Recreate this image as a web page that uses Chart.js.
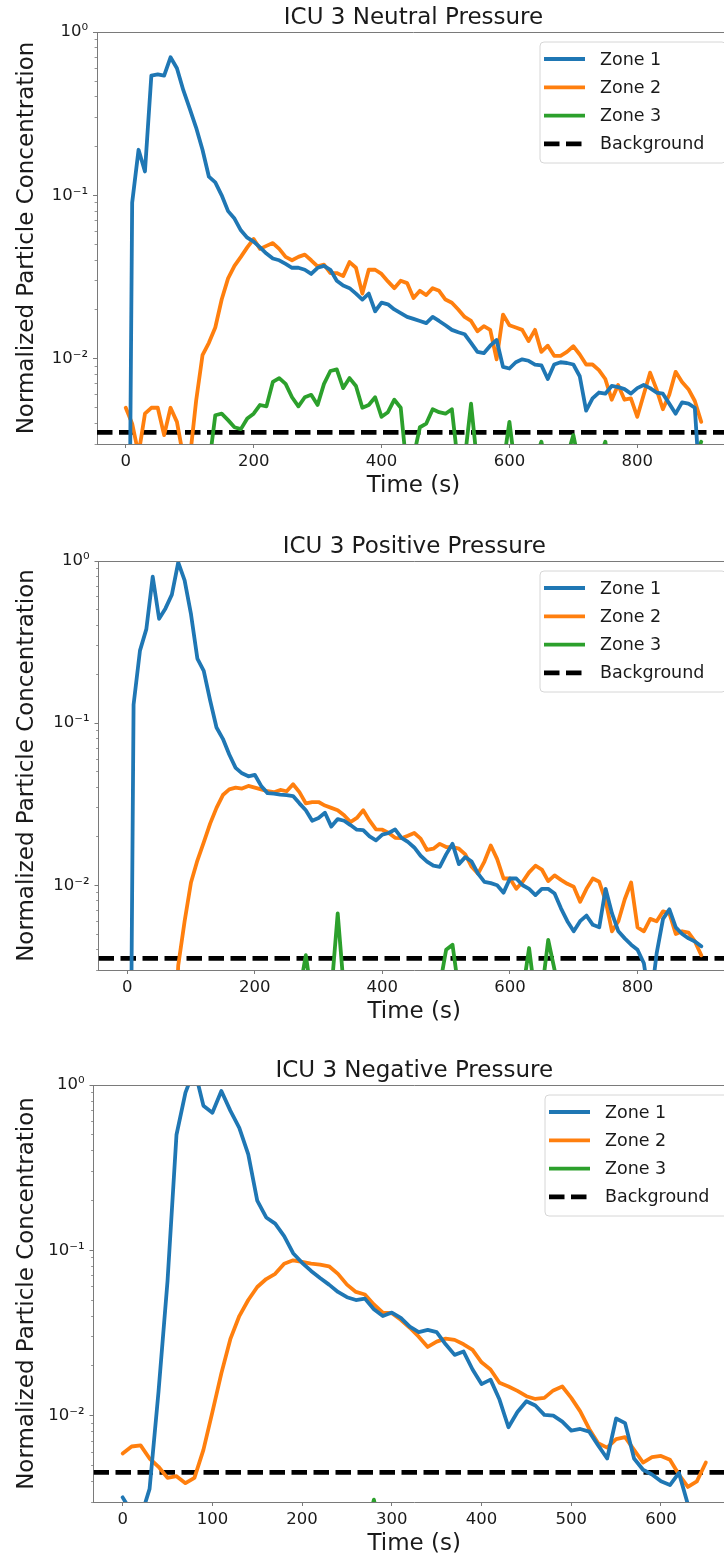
<!DOCTYPE html>
<html>
<head>
<meta charset="utf-8">
<script src="https://cdn.jsdelivr.net/npm/chart.js@4.4.1/dist/chart.umd.min.js"></script>
<style>
  html, body { margin: 0; padding: 0; background: #ffffff; width: 724px; height: 1558px; overflow: hidden; }
  .panel { position: absolute; left: 0; }
</style>
</head>
<body>
<canvas id="neutral" class="panel"></canvas>
<canvas id="positive" class="panel"></canvas>
<canvas id="negative" class="panel"></canvas>
<script>
// ---- series names, titles and tick labels ----
const seriesNames = ['Zone 1', 'Zone 2', 'Zone 3', 'Background'];
const panelTitles = ['ICU 3 Neutral Pressure', 'ICU 3 Positive Pressure', 'ICU 3 Negative Pressure'];
const xAxisTitle = 'Time (s)';
const yAxisTitle = 'Normalized Particle Concentration';
const longTimeTicks = [0, 200, 400, 600, 800];
const shortTimeTicks = [0, 100, 200, 300, 400, 500, 600];
const decadeTicks = [1, 0.1, 0.01];
const decadeLabels = ['10\u2070', '10\u207B\u00B9', '10\u207B\u00B2'];
const minorTicks = [0.9, 0.8, 0.7, 0.6, 0.5, 0.4, 0.3, 0.2,
                    0.09, 0.08, 0.07, 0.06, 0.05, 0.04, 0.03, 0.02,
                    0.009, 0.008, 0.007, 0.006, 0.005, 0.004, 0.003];

// ---- neutral pressure (0-900 s) ----
const neutralTime = [0,10,20,30,40,50,60,70,80,90,100,110,120,130,140,150,160,170,180,190,
  200,210,220,230,240,250,260,270,280,290,300,310,320,330,340,350,360,370,380,390,
  400,410,420,430,440,450,460,470,480,490,500,510,520,530,540,550,560,570,580,590,
  600,610,620,630,640,650,660,670,680,690,700,710,720,730,740,750,760,770,780,790,
  800,810,820,830,840,850,860,870,880,890,900];
const neutralZone1 = [0.000001,0.09,0.19,0.14,0.54,0.55,0.54,0.70,0.60,0.44,
  0.34,0.26,0.19,0.13,0.12,0.10,0.08,0.072,0.061,0.055,
  0.052,0.048,0.044,0.041,0.040,0.038,0.036,0.036,0.035,0.033,
  0.036,0.037,0.035,0.030,0.028,0.027,0.025,0.023,0.025,0.0195,
  0.022,0.0215,0.020,0.019,0.018,0.0175,0.017,0.0165,0.018,0.017,
  0.016,0.015,0.0145,0.0141,0.0125,0.011,0.0108,0.012,0.013,0.0089,
  0.0087,0.0095,0.0099,0.0097,0.0092,0.0091,0.0075,0.0092,0.0095,0.0094,
  0.0092,0.0078,0.0048,0.0057,0.0062,0.0061,0.0068,0.0067,0.0065,0.0061,
  0.0066,0.0069,0.0066,0.0062,0.0061,0.0053,0.0046,0.0054,0.0053,0.0050,0.0012];
const neutralZone2 = [0.0050,0.0040,0.0026,0.0046,0.0050,0.0050,0.0034,0.0050,0.0041,0.0025,
  0.0024,0.0055,0.0105,0.0125,0.0155,0.023,0.031,0.037,0.042,0.048,
  0.054,0.047,0.049,0.051,0.047,0.042,0.040,0.042,0.0433,0.040,
  0.0367,0.0376,0.0334,0.0334,0.032,0.039,0.036,0.025,0.035,0.035,
  0.033,0.0297,0.027,0.030,0.029,0.0235,0.026,0.0245,0.027,0.026,
  0.023,0.022,0.020,0.018,0.017,0.0147,0.0158,0.015,0.0099,0.0186,
  0.016,0.0155,0.015,0.0128,0.015,0.011,0.012,0.0104,0.0104,0.011,
  0.0119,0.0106,0.0092,0.0092,0.0085,0.0075,0.0056,0.0069,0.0056,0.0057,
  0.0044,0.0060,0.0082,0.0065,0.0049,0.0060,0.0083,0.0072,0.0065,0.0055,0.0041];
const neutralZone3 = [0.001,0.001,0.001,0.001,0.001,0.001,0.001,0.001,0.001,0.001,
  0.001,0.001,0.001,0.0022,0.0045,0.0046,0.0042,0.0038,0.0037,0.0043,
  0.0046,0.0052,0.0051,0.0072,0.0076,0.0070,0.0058,0.0051,0.0058,0.0060,
  0.0052,0.0070,0.0084,0.0086,0.0066,0.0076,0.0068,0.0050,0.0052,0.0058,
  0.0044,0.0047,0.0056,0.0050,0.0020,0.0025,0.0038,0.0040,0.0049,0.0047,
  0.0046,0.0049,0.0022,0.0024,0.0053,0.0022,0.0012,0.0012,0.0015,0.0022,
  0.0041,0.0020,0.0012,0.0015,0.0024,0.0031,0.0020,0.0012,0.0015,0.0025,
  0.0034,0.0022,0.0012,0.0015,0.0024,0.0031,0.0018,0.0012,0.0012,0.0012,
  0.0012,0.0012,0.0012,0.0012,0.0012,0.0012,0.0012,0.0012,0.0015,0.0024,0.0031];
const neutralBackground = 0.00353;

// ---- positive pressure (0-900 s) ----
const positiveTime = neutralTime;
const positiveZone1 = [0.000001,0.13,0.28,0.38,0.80,0.44,0.51,0.62,0.98,0.76,
  0.47,0.25,0.21,0.138,0.094,0.080,0.064,0.053,0.049,0.047,
  0.048,0.041,0.037,0.0367,0.0362,0.036,0.0355,0.032,0.029,0.025,
  0.026,0.028,0.023,0.0256,0.025,0.0235,0.022,0.0219,0.020,0.0189,
  0.0205,0.021,0.0221,0.0196,0.0185,0.0171,0.0152,0.014,0.0132,0.013,
  0.0155,0.018,0.0135,0.0149,0.014,0.0118,0.0105,0.0103,0.0100,0.0090,
  0.0110,0.0110,0.0100,0.0095,0.0087,0.0095,0.0095,0.0089,0.0072,0.0060,
  0.0052,0.0060,0.0065,0.0057,0.0055,0.0095,0.0067,0.0052,0.0047,0.0043,
  0.0040,0.0033,0.0018,0.0038,0.0062,0.0071,0.0055,0.0050,0.0047,0.0045,0.0042];
const positiveZone2 = [0.0005,0.0005,0.0005,0.0005,0.0005,0.0005,0.0005,0.0005,0.0032,0.0060,
  0.0104,0.0142,0.0184,0.024,0.030,0.036,0.039,0.040,0.0395,0.041,
  0.040,0.039,0.038,0.0375,0.0387,0.038,0.042,0.0375,0.032,0.0326,
  0.0326,0.031,0.030,0.029,0.027,0.0245,0.026,0.029,0.025,0.0221,
  0.022,0.021,0.0196,0.0195,0.0202,0.021,0.0194,0.0165,0.0168,0.018,
  0.0172,0.0172,0.0168,0.0155,0.013,0.0118,0.014,0.0176,0.0145,0.011,
  0.011,0.0095,0.0105,0.012,0.0132,0.0125,0.0106,0.0115,0.0108,0.0102,
  0.0098,0.0079,0.0095,0.011,0.0105,0.0080,0.0052,0.0060,0.0082,0.0104,
  0.0055,0.0052,0.0062,0.0060,0.0069,0.0067,0.0050,0.0052,0.0051,0.0045,0.0037];
const positiveZone3 = [0.0008,0.0008,0.0008,0.0008,0.0008,0.0008,0.0008,0.0008,0.0008,0.0008,
  0.0008,0.0008,0.0008,0.0008,0.0008,0.0008,0.0008,0.0008,0.0008,0.0008,
  0.0008,0.0008,0.0008,0.0008,0.0008,0.0008,0.0008,0.0022,0.0037,0.0020,
  0.0008,0.0008,0.0022,0.0067,0.0022,0.0008,0.0008,0.0008,0.0008,0.0008,
  0.0008,0.0008,0.0008,0.0008,0.0008,0.0008,0.0008,0.0008,0.0008,0.0024,
  0.0040,0.0043,0.0022,0.0008,0.0008,0.0008,0.0008,0.0008,0.0008,0.0008,
  0.0008,0.0008,0.0022,0.0041,0.0020,0.0022,0.0046,0.0030,0.0018,0.0008,
  0.0008,0.0008,0.0008,0.0008,0.0008,0.0008,0.0008,0.0008,0.0008,0.0008,
  0.0008,0.0008,0.0008,0.0008,0.0008,0.0008,0.0008,0.0008,0.0008,0.0008,0.0008];
const positiveBackground = 0.00354;

// ---- negative pressure (0-650 s) ----
const negativeTime = [0,10,20,30,40,50,60,70,80,90,100,110,120,130,140,150,160,170,180,190,
  200,210,220,230,240,250,260,270,280,290,300,310,320,330,340,350,360,370,380,390,
  400,410,420,430,440,450,460,470,480,490,500,510,520,530,540,550,560,570,580,590,
  600,610,620,630,640,650];
const negativeZone1 = [0.0032,0.0026,0.0024,0.0036,0.014,0.065,0.50,0.90,1.25,0.75,
  0.68,0.92,0.70,0.55,0.38,0.20,0.158,0.145,0.122,0.096,
  0.084,0.075,0.068,0.062,0.056,0.052,0.050,0.051,0.044,0.040,
  0.042,0.039,0.0345,0.032,0.033,0.032,0.027,0.0233,0.0244,0.019,
  0.0155,0.0165,0.0125,0.0085,0.0105,0.0122,0.0115,0.0101,0.0100,0.0092,
  0.0081,0.0083,0.0080,0.0066,0.0055,0.0096,0.0090,0.0055,0.0047,0.0044,
  0.0040,0.0038,0.0045,0.0029,0.0020,0.0016];
const negativeZone2 = [0.0059,0.0065,0.0066,0.0055,0.0049,0.0042,0.0043,0.0039,0.0042,0.0062,
  0.0105,0.018,0.029,0.040,0.050,0.060,0.067,0.072,0.083,0.087,
  0.085,0.083,0.082,0.080,0.072,0.062,0.056,0.054,0.047,0.042,
  0.0416,0.038,0.034,0.030,0.026,0.028,0.0292,0.0287,0.027,0.025,
  0.021,0.019,0.0158,0.0150,0.0141,0.0131,0.0126,0.0128,0.0142,0.0150,
  0.0128,0.0106,0.0083,0.0068,0.0064,0.0072,0.0074,0.0062,0.0052,0.0056,
  0.0057,0.0054,0.0044,0.0037,0.0040,0.0052];
const negativeZone3 = [0.0008,0.0008,0.0008,0.0008,0.0008,0.0008,0.0008,0.0008,0.0008,0.0008,
  0.0008,0.0008,0.0008,0.0008,0.0008,0.0008,0.0008,0.0008,0.0008,0.0008,
  0.0008,0.0008,0.0008,0.0008,0.0008,0.0008,0.0008,0.0018,0.0031,0.0018,
  0.0008,0.0008,0.0008,0.0008,0.0008,0.0008,0.0008,0.0008,0.0008,0.0008,
  0.0008,0.0008,0.0008,0.0008,0.0008,0.0008,0.0008,0.0008,0.0008,0.0008,
  0.0008,0.0008,0.0008,0.0008,0.0008,0.0008,0.0008,0.0008,0.0008,0.0008,
  0.0008,0.0008,0.0008,0.0008,0.0008,0.0008];
const negativeBackground = 0.00453;

// ---- styling ----
const FONT = "'DejaVu Sans', sans-serif";
const zoneColors = ['#1f77b4', '#ff7f0e', '#2ca02c'];
const AXIS_COLOR = '#7a7a7a';
const TEXT_COLOR = '#1a1a1a';

// spines on the top and right of the plotting area
const framePlugin = {
  id: 'frame',
  afterDatasetsDraw(chart) {
    const { ctx, chartArea: a } = chart;
    ctx.save();
    ctx.strokeStyle = AXIS_COLOR;
    ctx.lineWidth = 1;
    ctx.beginPath();
    ctx.moveTo(a.left, Math.round(a.top) + 0.5);
    ctx.lineTo(a.right, Math.round(a.top) + 0.5);
    ctx.moveTo(Math.round(a.right) + 0.5, a.top);
    ctx.lineTo(Math.round(a.right) + 0.5, a.bottom);
    ctx.stroke();
    ctx.restore();
  }
};

// legend box drawn inside the upper-right corner of the plotting area
const boxLegendPlugin = {
  id: 'boxLegend',
  afterDraw(chart, args, opts) {
    const { ctx, chartArea: a } = chart;
    const left = a.right - opts.rightGap - opts.width;
    const top = a.top + opts.topGap;
    const r = 4;
    ctx.save();
    ctx.beginPath();
    ctx.moveTo(left + r, top);
    ctx.lineTo(left + opts.width - r, top);
    ctx.arcTo(left + opts.width, top, left + opts.width, top + r, r);
    ctx.lineTo(left + opts.width, top + opts.height - r);
    ctx.arcTo(left + opts.width, top + opts.height, left + opts.width - r, top + opts.height, r);
    ctx.lineTo(left + r, top + opts.height);
    ctx.arcTo(left, top + opts.height, left, top + opts.height - r, r);
    ctx.lineTo(left, top + r);
    ctx.arcTo(left, top, left + r, top, r);
    ctx.closePath();
    ctx.fillStyle = 'rgba(255,255,255,0.8)';
    ctx.fill();
    ctx.strokeStyle = '#d6d6d6';
    ctx.lineWidth = 1;
    ctx.stroke();
    chart.data.datasets.forEach((ds, i) => {
      const y = top + opts.firstRow + i * opts.rowGap;
      ctx.beginPath();
      ctx.setLineDash(ds.borderDash || []);
      ctx.lineWidth = ds.borderWidth;
      ctx.strokeStyle = ds.borderColor;
      ctx.moveTo(left + opts.handleStart, y);
      ctx.lineTo(left + opts.handleStart + opts.handleLength, y);
      ctx.stroke();
      ctx.setLineDash([]);
      ctx.fillStyle = TEXT_COLOR;
      ctx.font = opts.fontSize + 'px ' + FONT;
      ctx.textBaseline = 'middle';
      ctx.textAlign = 'left';
      ctx.fillText(ds.label, left + opts.textStart, y + 1);
    });
    ctx.restore();
  }
};

function zoneSeries(time, values) {
  return time.map((t, i) => ({ x: t, y: values[i] }));
}

function buildPanel(id, cfg) {
  const canvas = document.getElementById(id);
  canvas.width = cfg.canvasWidth;
  canvas.height = cfg.canvasHeight;
  canvas.style.width = cfg.canvasWidth + 'px';
  canvas.style.height = cfg.canvasHeight + 'px';
  canvas.style.top = cfg.canvasTop + 'px';

  const zoneLine = (k, values) => ({
    label: seriesNames[k],
    data: zoneSeries(cfg.time, values),
    borderColor: zoneColors[k],
    backgroundColor: zoneColors[k],
    borderWidth: 3.8,
    borderJoinStyle: 'round',
    borderCapStyle: 'round',
    pointRadius: 0,
    tension: 0,
    fill: false,
    clip: 0
  });

  const datasets = [
    zoneLine(0, cfg.zone1),
    zoneLine(1, cfg.zone2),
    zoneLine(2, cfg.zone3),
    {
      label: seriesNames[3],
      data: [{ x: cfg.xMin, y: cfg.background }, { x: cfg.xMax, y: cfg.background }],
      borderColor: '#000000',
      backgroundColor: '#000000',
      borderWidth: 4.8,
      borderDash: [15.5, 6.5],
      pointRadius: 0,
      fill: false,
      clip: 0
    }
  ];

  return new Chart(canvas, {
    type: 'line',
    data: { datasets },
    plugins: [framePlugin, boxLegendPlugin],
    options: {
      responsive: false,
      animation: false,
      events: [],
      layout: { padding: { left: 0, right: cfg.padRight, top: 0, bottom: 0 } },
      plugins: {
        legend: { display: false },
        tooltip: { enabled: false },
        title: {
          display: true,
          text: cfg.title,
          fullSize: false,
          color: TEXT_COLOR,
          font: { family: FONT, size: 23, weight: 'normal', lineHeight: 1.2 },
          padding: { top: 4, bottom: 0.4 }
        },
        boxLegend: {
          width: 186, height: 121, rightGap: 4, topGap: 10,
          firstRow: 17, rowGap: 28.3,
          handleStart: 4, handleLength: 41, textStart: 60, fontSize: 17.5
        }
      },
      scales: {
        x: {
          type: 'linear',
          min: cfg.xMin,
          max: cfg.xMax,
          afterBuildTicks: (s) => { s.ticks = cfg.xTicks.map(v => ({ value: v })); },
          afterFit: (s) => { s.height = 58; },
          ticks: {
            autoSkip: false, maxRotation: 0, padding: 4,
            color: TEXT_COLOR,
            font: { family: FONT, size: 16.5 }
          },
          grid: { drawOnChartArea: false, drawTicks: true, tickLength: 4, tickColor: AXIS_COLOR, tickWidth: 1 },
          border: { display: true, color: AXIS_COLOR, width: 1 },
          title: {
            display: true, text: xAxisTitle, color: TEXT_COLOR,
            font: { family: FONT, size: 23, lineHeight: 1.2 },
            padding: { top: 0, bottom: 2 }
          }
        },
        y: {
          type: 'logarithmic',
          min: 0.003,
          max: 1,
          afterBuildTicks: (s) => {
            s.ticks = decadeTicks.map(v => ({ value: v, major: true }))
              .concat(minorTicks.map(v => ({ value: v, major: false })));
          },
          afterFit: (s) => { s.width = cfg.yAxisWidth; },
          ticks: {
            autoSkip: false, padding: 5,
            color: TEXT_COLOR,
            font: { family: FONT, size: 16.5 },
            callback: (v) => {
              const k = decadeTicks.indexOf(v);
              return k >= 0 ? decadeLabels[k] : '';
            }
          },
          grid: {
            drawOnChartArea: false, drawTicks: true, tickLength: 4,
            tickColor: AXIS_COLOR,
            tickWidth: (c) => (c.tick && c.tick.major ? 1 : 0.8),
            tickBorderDash: (c) => (c.tick && c.tick.major ? [] : [0, 1.6, 2.4, 30])
          },
          border: { display: true, color: AXIS_COLOR, width: 1 },
          title: {
            display: true, text: yAxisTitle, color: TEXT_COLOR,
            font: { family: FONT, size: 23, lineHeight: 1.2 },
            padding: { top: 13, bottom: 0 }
          }
        }
      }
    }
  });
}

buildPanel('neutral', {
  title: panelTitles[0], time: neutralTime,
  zone1: neutralZone1, zone2: neutralZone2, zone3: neutralZone3, background: neutralBackground,
  xMin: -45, xMax: 945, xTicks: longTimeTicks,
  canvasTop: 0, canvasWidth: 760, canvasHeight: 502, padRight: 30, yAxisWidth: 97
});
buildPanel('positive', {
  title: panelTitles[1], time: positiveTime,
  zone1: positiveZone1, zone2: positiveZone2, zone3: positiveZone3, background: positiveBackground,
  xMin: -45, xMax: 945, xTicks: longTimeTicks,
  canvasTop: 529, canvasWidth: 760, canvasHeight: 499, padRight: 30, yAxisWidth: 98.5
});
buildPanel('negative', {
  title: panelTitles[2], time: negativeTime,
  zone1: negativeZone1, zone2: negativeZone2, zone3: negativeZone3, background: negativeBackground,
  xMin: -32.5, xMax: 682.5, xTicks: shortTimeTicks,
  canvasTop: 1053, canvasWidth: 760, canvasHeight: 507, padRight: 25, yAxisWidth: 93.5
});
</script>
</body>
</html>
